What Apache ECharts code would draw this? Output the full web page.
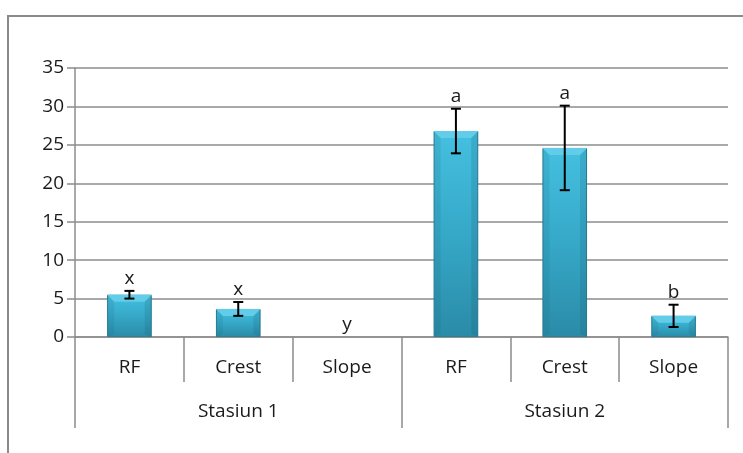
<!DOCTYPE html>
<html>
<head>
<meta charset="utf-8">
<script src="https://cdn.jsdelivr.net/npm/echarts@6/dist/echarts.min.js"></script>
<style>
  html, body { margin: 0; padding: 0; background: #fff; }
  #chart { width: 743px; height: 453px; }
</style>
</head>
<body>
<div id="chart"></div>
<script>
// Sample categories and group labels
const sites = ['RF', 'Crest', 'Slope', 'RF', 'Crest', 'Slope'];
const stations = ['Stasiun 1', 'Stasiun 2'];
// Mean values, standard errors and significance letters
const means = [5.5, 3.65, 0, 26.8, 24.6, 2.75];
const errors = [0.5, 0.9, 0, 2.9, 5.5, 1.45];
const letters = ['x', 'x', 'y', 'a', 'a', 'b'];
const yTicks = { min: 0, max: 35, step: 5 };

const FONT = 'Open Sans';
const AXIS_GRAY = '#8c8c8c';
const TEXT = '#1a1a1a';

const chart = echarts.init(document.getElementById('chart'));

const barColor = new echarts.graphic.LinearGradient(0, 0, 0, 1, [
  { offset: 0, color: '#45c0e0' },
  { offset: 0.5, color: '#36a8c8' },
  { offset: 1, color: '#2a8ba7' }
]);

chart.setOption({
  animation: false,
  graphic: [{
    type: 'rect',
    shape: { x: 8, y: 16, width: 760, height: 460 },
    style: { fill: 'none', stroke: '#8a8a8a', lineWidth: 2 },
    silent: true
  }],
  grid: { left: 75, right: 15, top: 68, bottom: 116, containLabel: false },
  xAxis: [{
    type: 'category',
    data: sites,
    position: 'bottom',
    axisLine: { show: true, lineStyle: { color: AXIS_GRAY, width: 1.5 } },
    axisTick: { show: true, interval: 0, length: 45, lineStyle: { color: AXIS_GRAY, width: 1.5 } },
    axisLabel: { interval: 0, margin: 21, color: TEXT, fontFamily: FONT, fontSize: 19 }
  }, {
    type: 'category',
    data: stations,
    position: 'bottom',
    axisLine: { show: false },
    axisTick: { show: true, interval: 0, length: 91, lineStyle: { color: AXIS_GRAY, width: 1.5 } },
    axisLabel: { interval: 0, margin: 65, color: TEXT, fontFamily: FONT, fontSize: 19 }
  }],
  yAxis: {
    type: 'value',
    min: yTicks.min,
    max: yTicks.max,
    interval: yTicks.step,
    axisLine: { show: true, lineStyle: { color: AXIS_GRAY, width: 1.5 } },
    axisTick: { show: true, length: 8, lineStyle: { color: AXIS_GRAY, width: 1.5 } },
    axisLabel: { margin: 11, color: TEXT, fontFamily: FONT, fontSize: 19 },
    splitLine: { show: true, lineStyle: { color: AXIS_GRAY, width: 1.5 } }
  },
  series: [{
    type: 'bar',
    xAxisIndex: 0,
    data: means.map(v => ({
      value: v,
      itemStyle: { borderWidth: v > 0 ? 1 : 0 }
    })),
    barWidth: '41%',
    itemStyle: { color: barColor, borderColor: '#2b7f96' },
    z: 2
  }, {
    // Bevel highlight on the top and edges of each bar
    type: 'custom',
    xAxisIndex: 0,
    data: means.map((m, i) => [i, m]),
    z: 3,
    renderItem: function (params, api) {
      const v = api.value(1);
      if (v <= 0) return null;
      const top = api.coord([api.value(0), v]);
      const base = api.coord([api.value(0), 0]);
      const w = api.size([1, 0])[0] * 0.41;
      const h = base[1] - top[1];
      const bev = Math.min(7, h / 2);
      const l = top[0] - w / 2, r = top[0] + w / 2;
      return {
        type: 'group',
        children: [{
          type: 'polygon',
          shape: { points: [[l, top[1]], [r, top[1]], [r - bev, top[1] + bev], [l + bev, top[1] + bev]] },
          style: { fill: '#62cde8' }
        }, {
          type: 'polygon',
          shape: { points: [[l, top[1]], [l + bev, top[1] + bev], [l + bev, base[1] - 3], [l, base[1]]] },
          style: { fill: 'rgba(20,90,110,0.12)' }
        }, {
          type: 'polygon',
          shape: { points: [[r, top[1]], [r - bev, top[1] + bev], [r - bev, base[1] - 3], [r, base[1]]] },
          style: { fill: 'rgba(20,90,110,0.18)' }
        }]
      };
    }
  }, {
    // Error bars and significance letters
    type: 'custom',
    xAxisIndex: 0,
    data: means.map((m, i) => [i, m, errors[i]]),
    z: 5,
    renderItem: function (params, api) {
      const i = api.value(0);
      const m = api.value(1);
      const e = api.value(2);
      const hi = api.coord([i, m + e]);
      const lo = api.coord([i, m - e]);
      const cap = 5;
      const children = [];
      if (e > 0) {
        const ls = { stroke: '#000', lineWidth: 2 };
        children.push(
          { type: 'line', shape: { x1: hi[0], y1: hi[1], x2: lo[0], y2: lo[1] }, style: ls },
          { type: 'line', shape: { x1: hi[0] - cap, y1: hi[1], x2: hi[0] + cap, y2: hi[1] }, style: ls },
          { type: 'line', shape: { x1: lo[0] - cap, y1: lo[1], x2: lo[0] + cap, y2: lo[1] }, style: ls }
        );
      }
      children.push({
        type: 'text',
        x: hi[0],
        y: hi[1] - 3,
        style: {
          text: letters[params.dataIndex],
          fill: TEXT,
          font: '19px "' + FONT + '"',
          align: 'center',
          verticalAlign: 'bottom'
        }
      });
      return { type: 'group', children: children };
    }
  }]
});
</script>
</body>
</html>
